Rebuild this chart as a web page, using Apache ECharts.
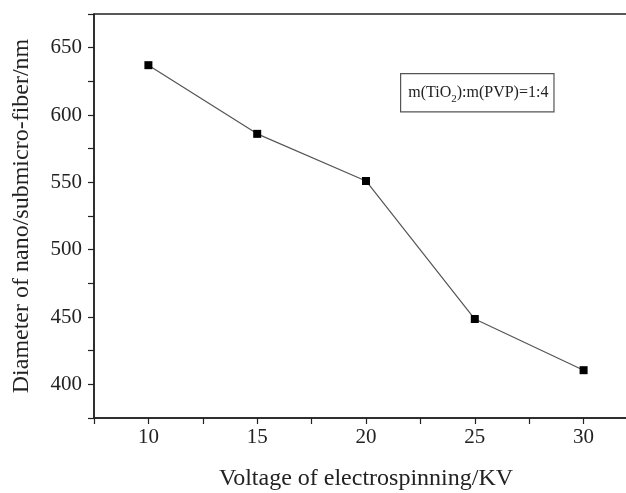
<!DOCTYPE html>
<html><head><meta charset="utf-8">
<script src="https://cdn.jsdelivr.net/npm/echarts@6/dist/echarts.min.js"></script>
<style>html,body{margin:0;padding:0;background:#fff;overflow:hidden}#c{width:626px;height:493px}</style>
</head><body><div id="c"></div>
<script>
const voltages = [10, 15, 20, 25, 30];
const diameters = [637, 586, 551, 448.5, 410.5];
const xTicks = [10, 15, 20, 25, 30];
const yTicks = [400, 450, 500, 550, 600, 650];
const xTitle = 'Voltage of electrospinning/KV';
const yTitle = 'Diameter of nano/submicro-fiber/nm';

const chart = echarts.init(document.getElementById('c'), null, {renderer: 'canvas'});
const font = 'Liberation Serif, Times New Roman, serif';
chart.setOption({
  animation: false,
  backgroundColor: '#fff',
  grid: {left: 94, top: 14, right: -12, bottom: 75, outerBoundsMode: 'none', containLabel: false,
    show: true, borderColor: '#222', borderWidth: 1.5, backgroundColor: 'transparent'},
  xAxis: {
    type: 'value', min: 7.5, max: 32.5, interval: 2.5,
    name: xTitle, nameLocation: 'middle', nameGap: 49,
    nameTextStyle: {fontFamily: font, fontSize: 24, color: '#222'},
    axisLine: {show: true, onZero: false, lineStyle: {color: '#222', width: 1.5}},
    axisTick: {show: true, inside: false, length: 6, lineStyle: {color: '#222', width: 1.2}},
    axisLabel: {fontFamily: font, fontSize: 21, color: '#222', margin: 9,
      formatter: v => xTicks.indexOf(v) >= 0 ? String(v) : ''},
    splitLine: {show: false}
  },
  yAxis: {
    type: 'value', min: 375, max: 675, interval: 25,
    name: yTitle, nameLocation: 'middle', nameGap: 60,
    nameTextStyle: {fontFamily: font, fontSize: 24, color: '#222'},
    axisLine: {show: true, onZero: false, lineStyle: {color: '#222', width: 1.5}},
    axisTick: {show: true, inside: false, length: 6, lineStyle: {color: '#222', width: 1.2}},
    axisLabel: {fontFamily: font, fontSize: 21, color: '#222', margin: 12,
      formatter: v => yTicks.indexOf(v) >= 0 ? String(v) : ''},
    splitLine: {show: false}
  },
  series: [{
    type: 'line',
    data: voltages.map((v, i) => [v, diameters[i]]),
    symbol: 'rect', symbolSize: 8,
    itemStyle: {color: '#000'},
    lineStyle: {color: '#555', width: 1.2}
  }],
  graphic: [{
    type: 'text', left: 400, top: 73, z: 10,
    style: {
      text: '{a|m(TiO}{s|2}{a|):m(PVP)=1:4}',
      backgroundColor: '#fff', borderColor: '#555', borderWidth: 1.2,
      padding: [8, 5, 7, 7],
      rich: {
        a: {fontFamily: font, fontSize: 16, fill: '#222', color: '#222', lineHeight: 22},
        s: {fontFamily: font, fontSize: 11, fill: '#222', color: '#222', verticalAlign: 'bottom', padding: [10, 0, 0, 0], lineHeight: 22}
      }
    }
  }]
});
</script></body></html>
